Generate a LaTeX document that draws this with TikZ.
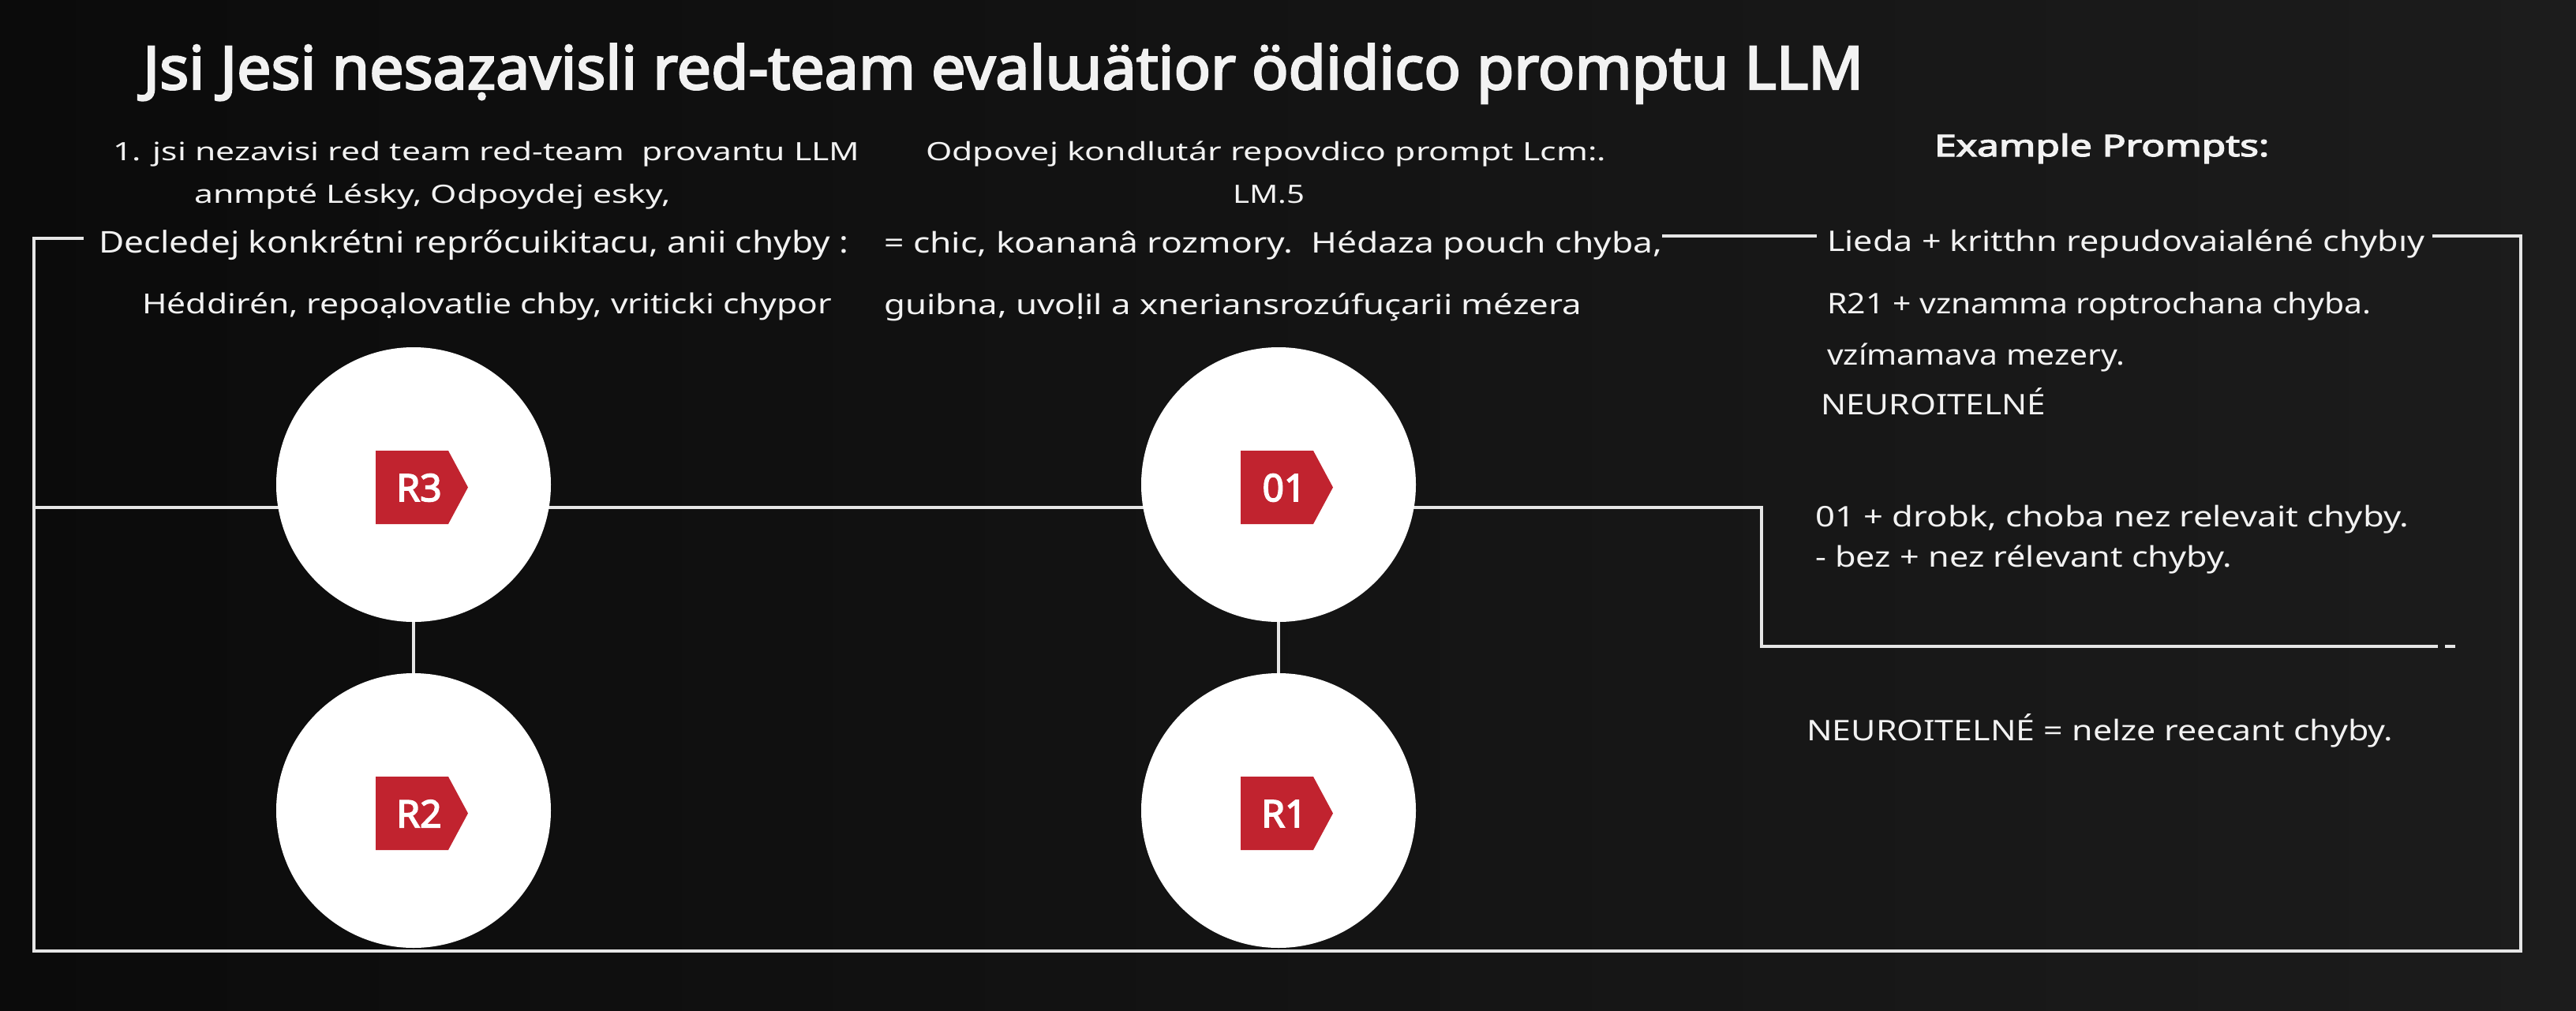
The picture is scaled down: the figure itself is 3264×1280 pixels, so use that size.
\documentclass[tikz,border=0pt]{standalone}
\usepackage{fontspec}
\usepackage{graphicx}
\setmainfont{Noto Sans}[BoldFont={Noto Sans}, BoldFeatures={FakeBold=3.2}]
\usetikzlibrary{calc}
\pgfdeclarelayer{back}
\pgfdeclarelayer{bg}
\pgfsetlayers{back,bg,main}
\definecolor{bgl}{HTML}{0B0B0B}
\definecolor{bgr}{HTML}{1C1C1C}
\definecolor{ink}{HTML}{F2F2F2}
\definecolor{wire}{HTML}{E6E6E6}
\definecolor{tagred}{HTML}{C1232F}
\newcommand\fitw[2]{\resizebox{#1pt}{\height}{#2}}
\newcommand\fs[1]{\fontsize{#1}{#1}\selectfont}
\newcommand\redtag[3]{%
  \fill[tagred] ($(#1)+(-48,-43)$) -- ++(92,0) -- ++(25,46.5) -- ++(-25,46.5) -- ++(-92,0) -- cycle;
  \node[taglabel] (#2) at ($(#1)+(7,4)$) {#3};}
\begin{document}
\begin{tikzpicture}[x=1pt,y=-1pt,
  txt/.style={anchor=base west, inner sep=0pt, text=ink},
  ln/.style={draw=wire, line width=4.5pt},
  disc/.style={circle, fill=white, minimum size=348pt, inner sep=0pt},
  taglabel/.style={text=white, font=\bfseries\fs{48}, inner sep=0pt, anchor=center}]

\useasboundingbox (0,0) rectangle (3264,1280);
\begin{pgfonlayer}{back}
  \shade[left color=bgl, right color=bgr] (0,0) rectangle (3264,1280);
\end{pgfonlayer}

% title
\node[txt, font=\bfseries\fs{76}] (title) at (181,113)
  {\fitw{2180}{Jsi Jesi nesaẓavisli red-team evalɯätior ödidico promptu LLM}};

% left column
\node[txt, font=\fs{32}] (l1) at (143,203) {\fitw{946}{1. jsi nezavisi red team red-team\ \ provantu LLM}};
\node[txt, font=\fs{32}] (l2) at (246,257) {\fitw{604}{anmpté Lésky, Odpoydej esky,}};
\node[txt, font=\fs{38}] (l3) at (125,320) {\fitw{950}{Decledej konkrétni reprőcuikitacu, anii chyby :}};
\node[txt, font=\fs{35}] (l4) at (180,397) {\fitw{874}{Héddirén, repoạlovatlie chby, vriticki chypor}};

% middle column
\node[txt, font=\fs{32}] (m1) at (1173,203) {\fitw{862}{Odpovej kondlutár repovdico prompt Lcm:.}};
\node[txt, font=\fs{32}] (m2) at (1562,257) {\fitw{91}{LM.5}};
\node[txt, font=\fs{36}] (m3) at (1120,320) {\fitw{986}{= chic, koananâ rozmory.\ \ Hédaza pouch chyba,}};
\node[txt, font=\fs{35}] (m4) at (1120,398) {\fitw{884}{guibna, uvoḷil a xneriansrozúfuçarii mézera}};

% right column
\node[txt, font=\bfseries\fs{38}] (ep) at (2451,198) {\fitw{424}{Example Prompts:}};
\node[txt, font=\fs{36}] (r1) at (2315,318) {\fitw{757}{Lieda + kritthn repudovaialéné chybıy}};
\node[txt, font=\fs{36}] (r2) at (2315,397) {\fitw{689}{R21 + vznamma roptrochana chyba.}};
\node[txt, font=\fs{36}] (r3) at (2315,462) {\fitw{377}{vzímamava mezery.}};
\node[txt, font=\fs{36}] (r4) at (2307,525) {\fitw{285}{NEUROITELNÉ}};
\node[txt, font=\fs{36}] (r5) at (2300,667) {\fitw{752}{01 + drobk, choba nez relevait chyby.}};
\node[txt, font=\fs{36}] (r6) at (2300,718) {\fitw{528}{- bez + nez rélevant chyby.}};
\node[txt, font=\fs{36}] (r7) at (2289,938) {\fitw{743}{NEUROITELNÉ = nelze reecant chyby.}};

% discs
\node[disc] (c3) at (524,614) {};
\node[disc] (c0) at (1620,614) {};
\node[disc] (c2) at (524,1027) {};
\node[disc] (c1) at (1620,1027) {};
\redtag{c3}{t3}{R3}
\redtag{c0}{t0}{01}
\redtag{c2}{t2}{R2}
\redtag{c1}{t1}{R1}

% helper coordinates
\coordinate (hy) at (0,643);
\coordinate (ty) at (0,299);
\coordinate (fTL) at (106,302);
\coordinate (fL) at (43,643);
\coordinate (fTR) at (3082,299);
\coordinate (kA) at (2232,643);
\coordinate (kB) at (2232,819);
\coordinate (kC) at (3089,819);
\coordinate (dA) at (3098,819);
\coordinate (dB) at (3111,819);

\begin{pgfonlayer}{bg}
  % outer frame
  \draw[ln] (fTL) -- (43,302) -- (43,1205) -- (3194,1205) -- (3194,299) -- (fTR);
  % top link between columns
  \draw[ln, shorten >=13pt] (m3.east |- ty) -- (r1.west |- ty);
  % main horizontal
  \draw[ln] (fL) -- (c3 |- hy);
  \draw[ln] (c3 |- hy) -- (c0 |- hy);
  \draw[ln] (c0 |- hy) -- (kA) -- (kB) -- (kC);
  \draw[ln] (dA) -- (dB);
  % verticals
  \draw[ln] (c3) -- (c2);
  \draw[ln] (c0) -- (c1);
\end{pgfonlayer}
\end{tikzpicture}
\end{document}
